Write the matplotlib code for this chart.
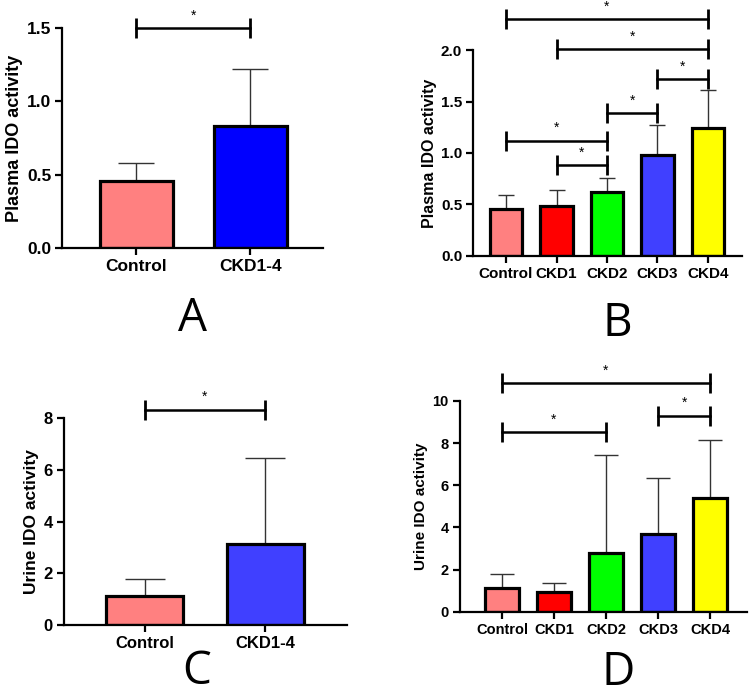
import matplotlib
matplotlib.use("Agg")
import matplotlib.pyplot as plt
import numpy as np

plt.rcParams["font.family"] = "Liberation Sans"
plt.rcParams["font.weight"] = "bold"

# Data (mean, SD)
two_groups = ["Control", "CKD1-4"]
five_groups = ["Control", "CKD1", "CKD2", "CKD3", "CKD4"]

plasma_two_mean = [0.46, 0.83]
plasma_two_sd = [0.12, 0.39]
plasma_five_mean = [0.46, 0.48, 0.62, 0.98, 1.24]
plasma_five_sd = [0.13, 0.16, 0.14, 0.29, 0.37]

urine_two_mean = [1.13, 3.15]
urine_two_sd = [0.65, 3.32]
urine_five_mean = [1.14, 0.95, 2.80, 3.70, 5.41]
urine_five_sd = [0.65, 0.43, 4.64, 2.63, 2.74]

# significance brackets: (group i, group j, height)
brackets_a = [(0, 1, 1.50)]
brackets_b = [(0, 4, 2.30), (1, 4, 2.01), (3, 4, 1.72), (2, 3, 1.39), (0, 2, 1.12), (1, 2, 0.88)]
brackets_c = [(0, 1, 8.33)]
brackets_d = [(0, 4, 10.84), (3, 4, 9.30), (0, 2, 8.50)]

plasma_ticks = [0.0, 0.5, 1.0, 1.5]
plasma_ticks_b = [0.0, 0.5, 1.0, 1.5, 2.0]
urine_ticks_c = [0, 2, 4, 6, 8]
urine_ticks_d = [0, 2, 4, 6, 8, 10]

colors_five = ["#FF8080", "#FF0000", "#00FF00", "#4040FF", "#FFFF00"]
colors_a = ["#FF8080", "#0000FF"]
colors_c = ["#FF8080", "#4040FF"]


def panel(rect, groups, mean, sd, colors, brackets, yticks, fmt, ylabel,
          xlim, fs, capsize):
    ax = fig.add_axes(rect)
    x = np.arange(len(groups))
    ax.errorbar(x, mean, yerr=[np.zeros(len(sd)), sd], fmt="none",
                ecolor="#333333", elinewidth=1.0, capsize=capsize,
                capthick=1.0, zorder=1)
    ax.bar(x, mean, width=0.64, color=colors, edgecolor="black",
           linewidth=2.3, zorder=2)
    ax.set_xlim(*xlim)
    ax.set_ylim(yticks[0], yticks[-1])
    ax.set_xticks(x)
    ax.set_xticklabels(groups, fontsize=fs, fontweight="bold")
    ax.set_yticks(yticks)
    ax.set_yticklabels([fmt.format(t) for t in yticks], fontsize=fs,
                       fontweight="bold")
    ax.set_ylabel(ylabel, fontsize=fs + 0.5, fontweight="bold", labelpad=3)
    for s in ["top", "right"]:
        ax.spines[s].set_visible(False)
    for s in ["left", "bottom"]:
        ax.spines[s].set_linewidth(1.6)
    ax.tick_params(width=1.6, length=5, pad=3)
    for i, j, h in brackets:
        ax.plot([i, j], [h, h], color="black", lw=1.8, clip_on=False,
                marker="|", markersize=14, mew=2.0)
        ax.annotate("*", ((i + j) / 2, h), xytext=(0, 4),
                    textcoords="offset points", ha="center", va="bottom",
                    fontsize=10, fontweight="normal", annotation_clip=False)
    return ax


fig = plt.figure(figsize=(7.5, 6.97), dpi=100)

panel([0.083, 0.644, 0.348, 0.316], two_groups, plasma_two_mean, plasma_two_sd,
      colors_a, brackets_a, plasma_ticks, "{:.1f}", "Plasma IDO activity",
      (-0.65, 1.64), 12.5, 13)
panel([0.631, 0.633, 0.358, 0.295], five_groups, plasma_five_mean, plasma_five_sd,
      colors_five, brackets_b, plasma_ticks_b, "{:.1f}", "Plasma IDO activity",
      (-0.65, 4.67), 11, 6)
panel([0.085, 0.103, 0.378, 0.297], two_groups, urine_two_mean, urine_two_sd,
      colors_c, brackets_c, urine_ticks_c, "{:d}", "Urine IDO activity",
      (-0.67, 1.68), 12, 14.5)
panel([0.613, 0.122, 0.383, 0.303], five_groups, urine_five_mean, urine_five_sd,
      colors_five, brackets_d, urine_ticks_d, "{:d}", "Urine IDO activity",
      (-0.81, 4.71), 10.5, 8.4)

for letter, (px, py) in zip(["A", "B", "C", "D"],
                            [(192, 331), (617, 336), (197, 684), (618, 685)]):
    fig.text(px / 750, 1 - py / 697, letter, fontsize=33, fontweight="normal",
             family="Open Sans", ha="center", va="baseline")

fig.savefig("out.png", dpi=100)
